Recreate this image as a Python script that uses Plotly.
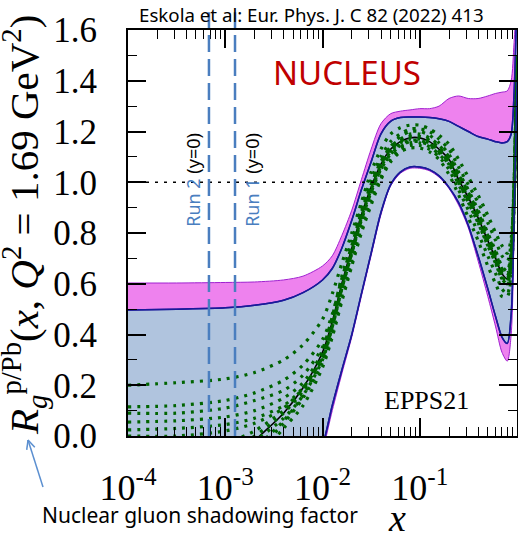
import plotly.graph_objects as go
import math

# ---------------- data ----------------
x_grid = [1.0e-4, 3.16e-4, 1.0e-3, 2.0e-3, 3.98e-3, 6.31e-3, 1.0e-2, 1.26e-2, 1.58e-2, 2.0e-2,
          2.51e-2, 3.16e-2, 3.98e-2, 5.01e-2, 6.31e-2, 7.94e-2, 0.1, 0.126, 0.158, 0.2,
          0.251, 0.316, 0.398, 0.501, 0.603, 0.70, 0.794, 0.871, 0.933, 1.0]

upper_total = [0.603, 0.603, 0.605, 0.607, 0.615, 0.63, 0.67, 0.71, 0.79, 0.89,
               1.01, 1.13, 1.23, 1.27, 1.28, 1.285, 1.29, 1.29, 1.30, 1.33,
               1.34, 1.33, 1.33, 1.34, 1.35, 1.355, 1.36, 1.40, 1.55, 1.75]
lower_total = [-0.85, -0.8, -0.7, -0.6, -0.45, -0.3, -0.06, 0.10, 0.245, 0.39,
               0.55, 0.71, 0.87, 0.985, 1.035, 1.055, 1.055, 1.045, 1.02, 0.975,
               0.91, 0.82, 0.69, 0.55, 0.43, 0.33, 0.295, 0.40, 0.8, 1.4]
upper_nuc = [0.497, 0.50, 0.505, 0.515, 0.535, 0.565, 0.615, 0.66, 0.74, 0.85,
             0.97, 1.08, 1.19, 1.24, 1.255, 1.257, 1.257, 1.255, 1.25, 1.24,
             1.22, 1.20, 1.18, 1.17, 1.16, 1.155, 1.16, 1.19, 1.35, 1.75]
lower_nuc = [-0.8, -0.75, -0.65, -0.55, -0.4, -0.25, -0.04, 0.12, 0.26, 0.40,
             0.56, 0.72, 0.88, 0.99, 1.04, 1.06, 1.06, 1.05, 1.025, 0.98,
             0.92, 0.83, 0.71, 0.58, 0.47, 0.39, 0.365, 0.48, 0.85, 1.4]
central = [-0.45, -0.32, -0.15, -0.02, 0.09, 0.19, 0.33, 0.45, 0.60, 0.74,
           0.87, 0.98, 1.07, 1.13, 1.16, 1.175, 1.175, 1.16, 1.13, 1.09,
           1.01, 0.94, 0.86, 0.77, 0.70, 0.64, 0.62, 0.70, 0.95, 1.5]

rep_01 = [0.20, 0.21, 0.225, 0.25, 0.30, 0.36, 0.46, 0.56, 0.68, 0.80, 0.92, 1.04, 1.13, 1.19, 1.215,
          1.225, 1.225, 1.21, 1.185, 1.15, 1.09, 1.02, 0.95, 0.87, 0.80, 0.75, 0.72, 0.78, 1.0, 1.5]
rep_02 = [0.115, 0.12, 0.14, 0.17, 0.22, 0.28, 0.38, 0.48, 0.62, 0.75, 0.88, 0.99, 1.08, 1.14, 1.18,
          1.20, 1.20, 1.185, 1.155, 1.11, 1.04, 0.97, 0.89, 0.80, 0.73, 0.67, 0.65, 0.73, 0.98, 1.5]
rep_03 = [0.09, 0.09, 0.11, 0.14, 0.18, 0.24, 0.35, 0.46, 0.60, 0.74, 0.87, 0.98, 1.07, 1.13, 1.16,
          1.18, 1.18, 1.165, 1.135, 1.09, 1.02, 0.95, 0.87, 0.78, 0.71, 0.65, 0.63, 0.71, 0.96, 1.5]
rep_04 = [0.055, 0.06, 0.075, 0.10, 0.15, 0.21, 0.33, 0.44, 0.59, 0.73, 0.86, 0.97, 1.06, 1.12, 1.15,
          1.165, 1.165, 1.15, 1.12, 1.08, 1.00, 0.93, 0.85, 0.76, 0.69, 0.63, 0.61, 0.69, 0.94, 1.5]
rep_05 = [0.024, 0.03, 0.045, 0.07, 0.12, 0.19, 0.31, 0.43, 0.58, 0.72, 0.85, 0.96, 1.05, 1.11, 1.14,
          1.155, 1.155, 1.14, 1.11, 1.07, 0.99, 0.92, 0.84, 0.75, 0.68, 0.62, 0.60, 0.68, 0.93, 1.5]
rep_06 = [-0.10, -0.08, -0.03, 0.02, 0.10, 0.18, 0.32, 0.44, 0.59, 0.73, 0.87, 0.98, 1.08, 1.14, 1.17,
          1.19, 1.19, 1.175, 1.145, 1.10, 1.03, 0.96, 0.88, 0.79, 0.72, 0.66, 0.64, 0.72, 0.97, 1.5]
rep_07 = [-0.30, -0.22, -0.10, -0.02, 0.07, 0.16, 0.30, 0.43, 0.58, 0.72, 0.86, 0.97, 1.06, 1.12, 1.155,
          1.17, 1.17, 1.155, 1.125, 1.08, 1.01, 0.94, 0.86, 0.77, 0.70, 0.64, 0.62, 0.70, 0.95, 1.5]
rep_08 = [-0.50, -0.38, -0.20, -0.07, 0.05, 0.15, 0.29, 0.41, 0.55, 0.69, 0.82, 0.93, 1.02, 1.09, 1.13,
          1.145, 1.145, 1.13, 1.10, 1.05, 0.97, 0.89, 0.80, 0.71, 0.64, 0.58, 0.56, 0.65, 0.92, 1.5]
rep_09 = [-0.60, -0.45, -0.25, -0.10, 0.03, 0.12, 0.27, 0.39, 0.53, 0.67, 0.80, 0.91, 1.01, 1.08, 1.12,
          1.135, 1.135, 1.12, 1.09, 1.03, 0.95, 0.86, 0.77, 0.67, 0.60, 0.55, 0.55, 0.63, 0.90, 1.5]
rep_10 = [-0.20, -0.15, -0.06, 0.00, 0.09, 0.18, 0.34, 0.47, 0.63, 0.77, 0.90, 1.01, 1.10, 1.16, 1.19,
          1.21, 1.21, 1.20, 1.17, 1.13, 1.06, 0.99, 0.92, 0.84, 0.77, 0.71, 0.69, 0.76, 0.99, 1.5]
rep_11 = [-0.40, -0.30, -0.15, -0.05, 0.06, 0.16, 0.31, 0.44, 0.60, 0.74, 0.88, 0.99, 1.08, 1.135, 1.165,
          1.18, 1.18, 1.165, 1.135, 1.09, 1.02, 0.95, 0.87, 0.78, 0.71, 0.65, 0.63, 0.71, 0.96, 1.5]
rep_12 = [0.0, 0.0, 0.02, 0.05, 0.11, 0.19, 0.32, 0.44, 0.59, 0.72, 0.85, 0.96, 1.05, 1.11, 1.145,
          1.16, 1.16, 1.145, 1.115, 1.07, 1.00, 0.92, 0.84, 0.75, 0.68, 0.62, 0.60, 0.68, 0.93, 1.5]
replicas = [rep_01, rep_02, rep_03, rep_04, rep_05, rep_06, rep_07, rep_08, rep_09, rep_10, rep_11, rep_12]

run_lines = [("Run 2", 6.8e-4, -16), ("Run 1", 1.26e-3, 17)]
x_tick_vals = [1e-4, 1e-3, 1e-2, 1e-1]
x_tick_text = ["10<sup>-4</sup>", "10<sup>-3</sup>", "10<sup>-2</sup>", "10<sup>-1</sup>"]
y_tick_vals = [0.0, 0.2, 0.4, 0.6, 0.8, 1.0, 1.2, 1.4, 1.6]

# ---------------- styling ----------------
W, H = 518, 541
ML, MR, MT, MB = 128, 1, 30, 105
X_RANGE = [-4, 0]
Y_RANGE = [0, 1.6]
MAGENTA = "#ee82ee"
MAG_EDGE = "#a020d0"
BAND = "#b0c4de"
NAVY = "#1a1a9a"
GREEN = "#006400"
RUNBLUE = "#4a7ebf"
SERIF = "Liberation Serif"
SANS = "Noto Sans"

pw, ph = W - ML - MR, H - MT - MB


def px2paper(px, py):
    return (px - ML) / pw, (H - MB - py) / ph


fig = go.Figure()
spl = dict(shape="spline", smoothing=0.8)

fig.add_trace(go.Scatter(x=x_grid, y=lower_total, mode="lines",
                         line=dict(color=MAG_EDGE, width=1, **spl), showlegend=False, hoverinfo="skip"))
fig.add_trace(go.Scatter(x=x_grid, y=upper_total, mode="lines", fill="tonexty", fillcolor=MAGENTA,
                         line=dict(color=MAG_EDGE, width=1, **spl), showlegend=False, hoverinfo="skip"))
fig.add_trace(go.Scatter(x=x_grid, y=lower_nuc, mode="lines",
                         line=dict(color=NAVY, width=1.5, **spl), showlegend=False, hoverinfo="skip"))
fig.add_trace(go.Scatter(x=x_grid, y=upper_nuc, mode="lines", fill="tonexty", fillcolor=BAND,
                         line=dict(color=NAVY, width=1.5, **spl), showlegend=False, hoverinfo="skip"))

fig.add_trace(go.Scatter(x=x_grid, y=central, mode="lines",
                         line=dict(color="black", width=1.6, **spl), showlegend=False, hoverinfo="skip"))
for rep in replicas:
    fig.add_trace(go.Scatter(x=x_grid, y=rep, mode="lines",
                             line=dict(color=GREEN, width=3.2, dash="3px,6px", **spl),
                             showlegend=False, hoverinfo="skip"))

# redraw band edges on top
fig.add_trace(go.Scatter(x=x_grid, y=lower_nuc, mode="lines",
                         line=dict(color=NAVY, width=1.5, **spl), showlegend=False, hoverinfo="skip"))
fig.add_trace(go.Scatter(x=x_grid, y=upper_nuc, mode="lines",
                         line=dict(color=NAVY, width=1.5, **spl), showlegend=False, hoverinfo="skip"))

shapes = []
shapes.append(dict(type="line", xref="paper", yref="y", x0=0, x1=1, y0=1.0, y1=1.0,
                   line=dict(color="black", width=1.5, dash="3px,6px"), layer="above"))
annotations = []
for name, xv, off in run_lines:
    xp = (math.log10(xv) - X_RANGE[0]) / (X_RANGE[1] - X_RANGE[0])
    shapes.append(dict(type="line", xref="paper", yref="paper", x0=xp, x1=xp, y0=0, y1=1.044,
                       line=dict(color=RUNBLUE, width=2.5, dash="17px,7px"), layer="above"))
    annotations.append(dict(xref="paper", yref="paper", x=xp + off / pw, y=0.631, showarrow=False,
                            textangle=-90, xanchor="center", yanchor="middle",
                            text=f"<span style='color:{RUNBLUE}'>{name}</span> (y=0)",
                            font=dict(family=SANS, size=18, color="black")))

# arrow pointing to the y label
hx, hy, tx, ty = 28, 440, 43, 487
dx, dy = hx - tx, hy - ty
L = math.hypot(dx, dy)
ux, uy = -dx / L, -dy / L
for ang in (25, -25):
    a = math.radians(ang)
    wx = ux * math.cos(a) - uy * math.sin(a)
    wy = ux * math.sin(a) + uy * math.cos(a)
    p1 = px2paper(hx, hy)
    p2 = px2paper(hx + 10 * wx, hy + 10 * wy)
    shapes.append(dict(type="line", xref="paper", yref="paper", x0=p1[0], y0=p1[1], x1=p2[0], y1=p2[1],
                       line=dict(color="#5b8fd0", width=1.5)))
p1 = px2paper(tx, ty)
p2 = px2paper(hx, hy)
shapes.append(dict(type="line", xref="paper", yref="paper", x0=p1[0], y0=p1[1], x1=p2[0], y1=p2[1],
                   line=dict(color="#5b8fd0", width=1.5)))


def ann(px, py, text, font, **kw):
    xp, yp = px2paper(px, py)
    d = dict(xref="paper", yref="paper", x=xp, y=yp, text=text, showarrow=False, font=font,
             xanchor="center", yanchor="middle")
    d.update(kw)
    annotations.append(d)


ann(311, 14, "Eskola et al: Eur. Phys. J. C 82 (2022) 413", dict(family=SANS, size=18.7, color="black"))
ann(347, 72, "NUCLEUS", dict(family=SANS, size=33, color="#c00000"))
ann(426, 400, "EPPS21", dict(family=SERIF, size=26, color="black"))
ann(24, 225, "<i>R</i><sub><i>g</i></sub><sup>p/Pb</sup>(<i>x</i>, <i>Q</i><sup>2</sup> = 1.69 GeV<sup>2</sup>)",
    dict(family=SERIF, size=41, color="black"), textangle=-90)
ann(397, 541, "<i>x</i>", dict(family=SERIF, size=38, color="black"), yanchor="bottom")
ann(200, 515, "Nuclear gluon shadowing factor", dict(family=SANS, size=21, color="black"))

minor_x = [k * 10 ** e for e in range(-4, 0) for k in range(2, 10)]

fig.update_layout(
    width=W, height=H, margin=dict(l=ML, r=MR, t=MT, b=MB, pad=0, autoexpand=False),
    paper_bgcolor="white", plot_bgcolor="white",
    shapes=shapes, annotations=annotations,
    xaxis=dict(type="log", range=X_RANGE, tickvals=x_tick_vals, ticktext=x_tick_text, automargin=False,
               ticks="inside", ticklen=18, tickwidth=1.5, tickcolor="black",
               showline=True, linewidth=2, linecolor="black", mirror="ticks", showgrid=False, zeroline=False,
               tickfont=dict(family=SERIF, size=36, color="black"), ticklabelstandoff=19,
               minor=dict(tickvals=minor_x, ticks="inside", ticklen=9, tickwidth=1.2, tickcolor="black",
                          showgrid=False)),
    yaxis=dict(range=Y_RANGE, tickvals=y_tick_vals, tickformat=".1f", automargin=False,
               ticks="inside", ticklen=18, tickwidth=1.5, tickcolor="black",
               showline=True, linewidth=2, linecolor="black", mirror="ticks", showgrid=False, zeroline=False,
               tickfont=dict(family=SERIF, size=35, color="black"), ticklabelstandoff=22,
               minor=dict(dtick=0.1, ticks="inside", ticklen=9, tickwidth=1.2, tickcolor="black",
                          showgrid=False)),
)

fig.write_html("out.html", config={"displayModeBar": False},
               post_script="document.body.style.margin='0px';document.body.style.overflow='hidden';")
